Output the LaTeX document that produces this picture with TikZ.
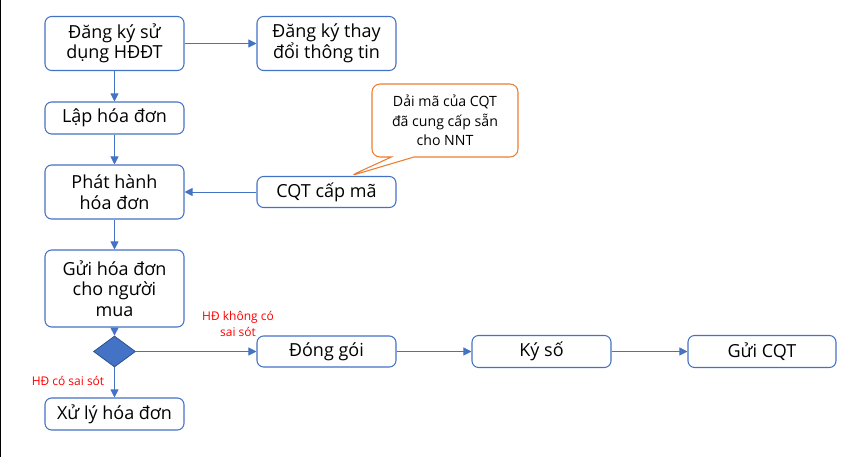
\documentclass[tikz,border=0pt]{standalone}
\usepackage{fontspec}
\setmainfont{Open Sans}
\usepackage{tikz}
\usetikzlibrary{arrows.meta,shapes.geometric,shapes.callouts}
\definecolor{lineblue}{HTML}{4472C4}
\definecolor{edgeblue}{HTML}{2F528F}
\definecolor{noteorange}{HTML}{ED7D31}

\begin{document}
\begin{tikzpicture}[x=0.75pt,y=-0.75pt,>={Triangle[length=6pt,width=6pt]},
  font=\fontsize{13.5}{15.4}\selectfont,
  stepbox/.style={draw=lineblue,line width=0.8pt,rounded corners=5pt,fill=white,
    align=center,minimum width=104.25pt,inner sep=2pt},
  flow/.style={->,draw=lineblue,line width=0.75pt},
  cond/.style={text=red,font=\fontsize{9}{12.5}\selectfont,align=center,inner sep=0pt}]
\useasboundingbox (0,0) rectangle (861,457);
\fill[black] (0,0) rectangle (1.5,457);
% registration
\node[stepbox,minimum height=40.5pt] (dangky) at (114.5,43.5) {Đăng ký sử\\dụng HĐĐT};
\node[stepbox,minimum height=40.5pt] (thaydoi) at (326.5,43.5) {Đăng ký thay\\đổi thông tin};
% main column
\node[stepbox,minimum height=24pt] (lap) at (114.5,118) {Lập hóa đơn};
\node[stepbox,minimum height=40.5pt] (phathanh) at (114.5,192) {Phát hành\\hóa đơn};
\node[stepbox,minimum height=23.25pt] (capma) at (326.5,192) {CQT cấp mã};
\node[stepbox,minimum height=57.75pt] (gui) at (114.5,288.5) {Gửi hóa đơn\\cho người\\mua};
\node[diamond,draw=edgeblue,fill=lineblue,line width=0.6pt,minimum width=31.5pt,
  minimum height=23.25pt,inner sep=0pt] (kiemtra) at (114.5,351.5) {};
\node[stepbox,minimum height=24pt] (xuly) at (114.5,414) {Xử lý hóa đơn};
% sending row
\node[stepbox,minimum height=23.25pt] (donggoi) at (326.5,351.5) {Đóng gói};
\node[stepbox,minimum height=24pt] (kyso) at (541.5,351.5) {Ký số};
\node[stepbox,minimum height=24pt,minimum width=111pt] (guicqt) at (762,351.5) {Gửi CQT};
% callout on the code range
\coordinate (tip) at (350,176);
\node[rectangle callout,draw=noteorange,line width=0.8pt,rounded corners=6pt,fill=white,
  minimum width=109.5pt,minimum height=54.75pt,callout absolute pointer=(tip),
  callout pointer width=17pt,align=center,font=\fontsize{10.6}{14.6}\selectfont] (dai) at (445,120.5)
  {Dải mã của CQT\\đã cung cấp sẵn\\cho NNT};
% connectors
\draw[flow] (dangky) -- (thaydoi);
\draw[flow] (dangky) -- (lap);
\draw[flow] (lap) -- (phathanh);
\draw[flow] (capma) -- (phathanh);
\draw[flow] (phathanh) -- (gui);
\draw[flow] (gui) -- (kiemtra);
\draw[flow] (kiemtra) -- (donggoi);
\draw[flow] (kiemtra) -- (xuly);
\draw[flow] (donggoi) -- (kyso);
\draw[flow] (kyso) -- (guicqt);
% branch labels
\node[cond] (khongsai) at (238,324) {HĐ không có\\sai sót};
\node[cond] (cosai) at (68,381) {HĐ có sai sót};
\end{tikzpicture}
\end{document}
